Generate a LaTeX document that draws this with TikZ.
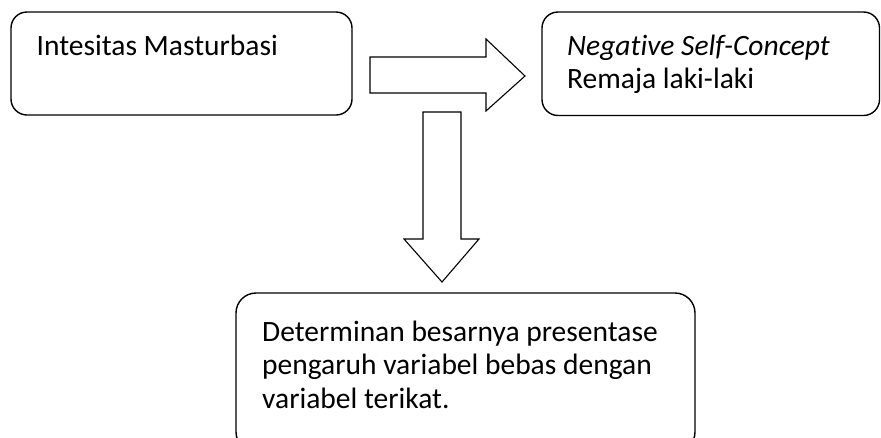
\documentclass[tikz,border=0pt]{standalone}
\usepackage{fontspec}
\setmainfont[RawFeature=-liga]{Carlito}
\begin{document}
\begin{tikzpicture}[x=1pt,y=-1pt,
  box/.style={draw,line width=1.4pt,rounded corners=16pt},
  blockarrow/.style={draw,line width=1.1pt,fill=white,line join=miter},
  txt/.style={anchor=base west,inner sep=0pt,font=\fontsize{29.5}{34}\selectfont}]
\useasboundingbox (0,0) rectangle (881,437);
\clip (0,0) rectangle (881,437);
% boxes
\draw[box] (11,12) rectangle (352,115);
\draw[box] (542,12) rectangle (879.5,115.5);
\draw[box,rounded corners=20pt] (236,293) rectangle (695,452);
% texts
\node[txt] (t1) at (36.5,55) {Intesitas Masturbasi};
\node[txt] (t2) at (567,55) {\itshape Negative Self-Concept};
\node[txt] (t3) at (567,88) {Remaja laki-laki};
\node[txt] (t4) at (262,341) {Determinan besarnya presentase};
\node[txt] (t5) at (262,374.5) {pengaruh variabel bebas dengan};
\node[txt] (t6) at (262,408) {variabel terikat.};
% right block arrow
\draw[blockarrow] (370,57) -- (486,57) -- (486,39) -- (525,76) -- (486,111) -- (486,93) -- (370,93) -- cycle;
% down block arrow
\draw[blockarrow] (423,112) -- (461,112) -- (461,239) -- (479,239) -- (442,282) -- (404,239) -- (423,239) -- cycle;
\end{tikzpicture}
\end{document}
